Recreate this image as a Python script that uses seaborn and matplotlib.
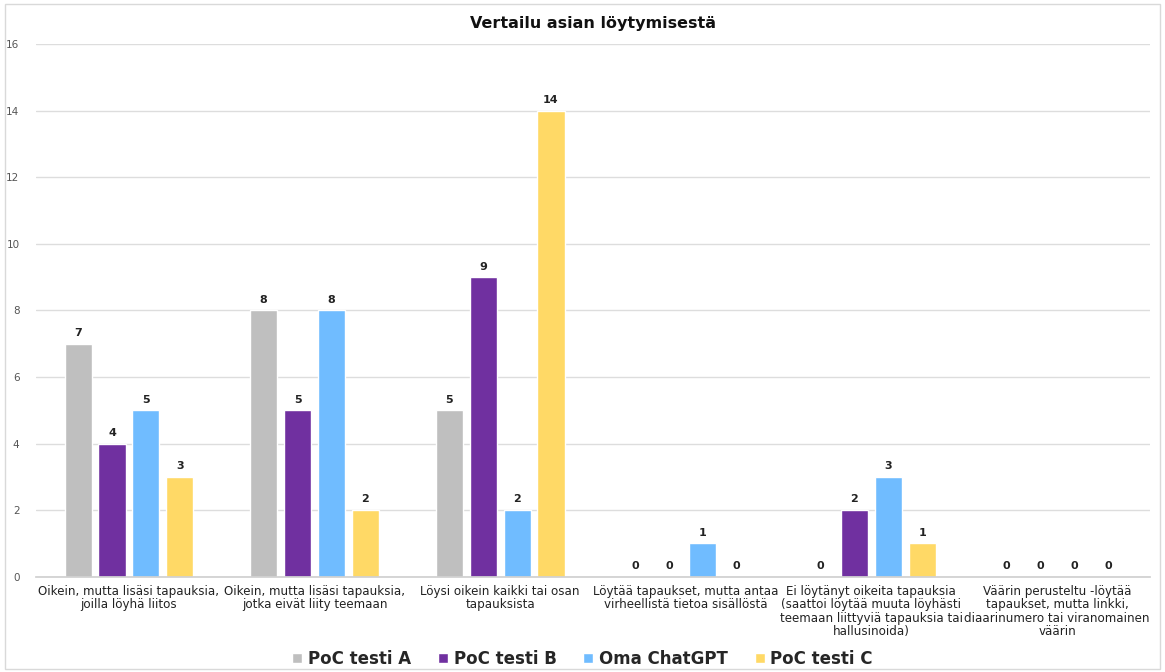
import matplotlib
matplotlib.use("Agg")
import matplotlib.pyplot as plt
import seaborn as sns
import pandas as pd
from matplotlib.patches import Rectangle

categories = [
    "Oikein, mutta lisäsi tapauksia,\njoilla löyhä liitos",
    "Oikein, mutta lisäsi tapauksia,\njotka eivät liity teemaan",
    "Löysi oikein kaikki tai osan\ntapauksista",
    "Löytää tapaukset, mutta antaa\nvirheellistä tietoa sisällöstä",
    "Ei löytänyt oikeita tapauksia\n(saattoi löytää muuta löyhästi\nteemaan liittyviä tapauksia tai\nhallusinoida)",
    "Väärin perusteltu -löytää\ntapaukset, mutta linkki,\ndiaarinumero tai viranomainen\nväärin",
]
series_names = ["PoC testi A", "PoC testi B", "Oma ChatGPT", "PoC testi C"]
poc_a = [7, 8, 5, 0, 0, 0]
poc_b = [4, 5, 9, 0, 2, 0]
oma_chatgpt = [5, 8, 2, 1, 3, 0]
poc_c = [3, 2, 14, 0, 1, 0]
colors = ["#BFBFBF", "#7030A0", "#70BCFF", "#FFD966"]
y_ticks = [0, 2, 4, 6, 8, 10, 12, 14, 16]

rows = []
for name, vals in zip(series_names, [poc_a, poc_b, oma_chatgpt, poc_c]):
    for cat, v in zip(categories, vals):
        rows.append({"Luokka": cat, "Sarja": name, "Määrä": v})
df = pd.DataFrame(rows)

sns.set_theme(style="white")
plt.rcParams["font.family"] = ["DejaVu Sans"]

fig = plt.figure(figsize=(11.65, 6.72), dpi=100)
ax = fig.add_axes([0.031, 0.142, 0.956, 0.792])

sns.barplot(data=df, x="Luokka", y="Määrä", hue="Sarja", order=categories,
            hue_order=series_names, palette=colors, width=0.73, gap=0.2,
            saturation=1, ax=ax, legend=True)

for cont in ax.containers:
    ax.bar_label(cont, fmt="%d", padding=4, fontsize=8, fontweight="bold",
                 color="#222222")

ax.set_ylim(0, 16)
ax.set_yticks(y_ticks)
ax.set_yticklabels([str(t) for t in y_ticks], fontsize=7.5, color="#555555")
ax.tick_params(axis="y", length=0, pad=12)
ax.tick_params(axis="x", length=0, pad=6)
for lbl in ax.get_xticklabels():
    lbl.set_fontsize(8.6)
    lbl.set_color("#222222")
    lbl.set_linespacing(1.05)
ax.set_xlim(-0.5, len(categories) - 0.5)
ax.yaxis.grid(True, color="#DDDDDD", linewidth=1)
ax.set_axisbelow(True)
for side in ["top", "right", "left"]:
    ax.spines[side].set_visible(False)
ax.spines["bottom"].set_color("#D0D0D0")
ax.set_xlabel("")
ax.set_ylabel("")

ax.set_title("Vertailu asian löytymisestä", fontsize=11.5, fontweight="bold",
             color="#111111", pad=12)

handles, labels = ax.get_legend_handles_labels()
ax.legend_.remove()
fig.legend(handles, labels, loc="lower center", bbox_to_anchor=(0.5, -0.016),
           ncol=4, frameon=False, handlelength=0.6, handleheight=0.6,
           handletextpad=0.35, columnspacing=1.6,
           prop={"weight": "bold", "size": 12})

fig.patches.append(Rectangle((0.004, 0.004), 0.992, 0.99, transform=fig.transFigure,
                             fill=False, edgecolor="#D9D9D9", linewidth=1))

fig.savefig("out.png", dpi=100, facecolor="white")
